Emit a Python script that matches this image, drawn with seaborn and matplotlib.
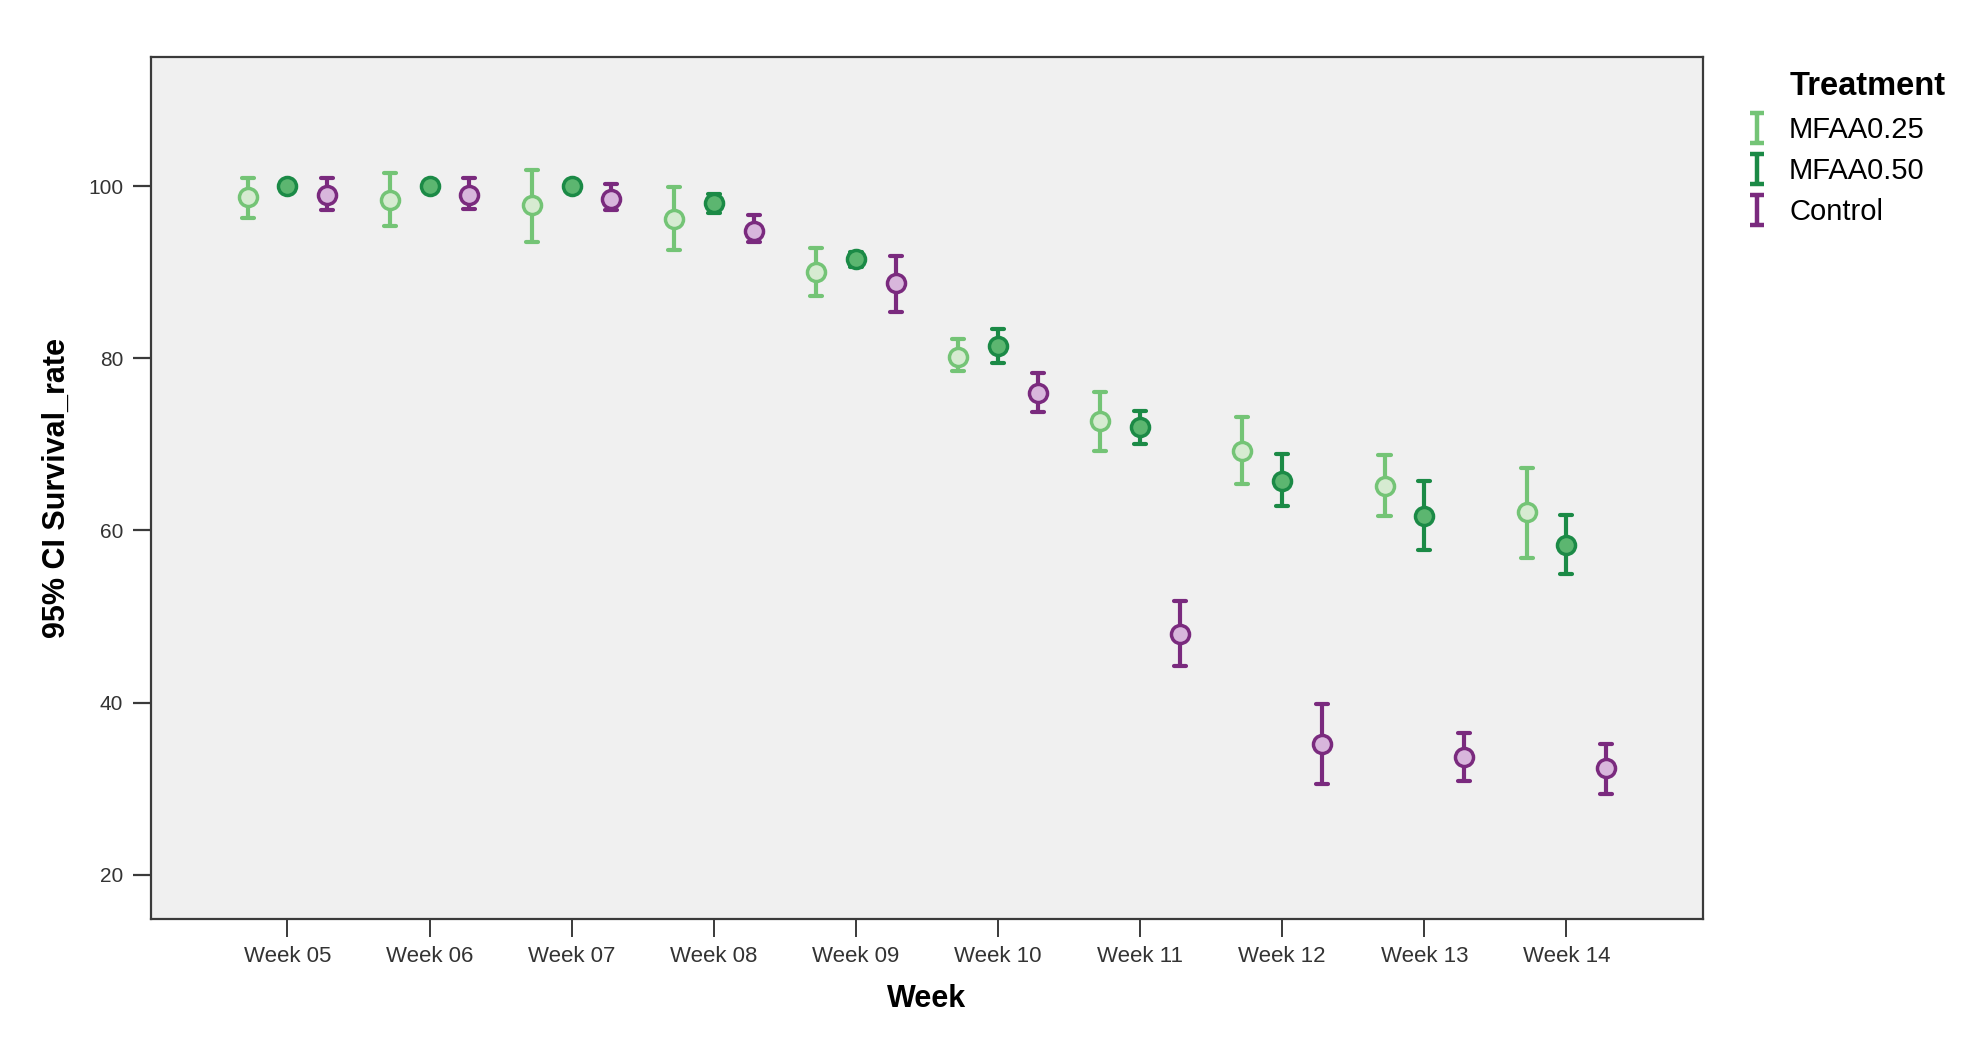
import pandas as pd
import seaborn as sns
import matplotlib.pyplot as plt
import numpy as np
from matplotlib.lines import Line2D
from matplotlib.path import Path
from matplotlib.colors import to_hex


weeks = ["Week 05", "Week 06", "Week 07", "Week 08", "Week 09",
         "Week 10", "Week 11", "Week 12", "Week 13", "Week 14"]
treatments = ["MFAA0.25", "MFAA0.50", "Control"]

# means and 95% CI limits
mfaa025_mean = [98.7, 98.4, 97.8, 96.2, 90.0, 80.1, 72.7, 69.2, 65.2, 62.1]
mfaa025_lo = [96.3, 95.4, 93.5, 92.6, 87.2, 78.5, 69.2, 65.4, 61.7, 56.8]
mfaa025_hi = [101.0, 101.5, 101.9, 99.9, 92.8, 82.2, 76.1, 73.2, 68.8, 67.3]

mfaa050_mean = [100.0, 100.0, 100.0, 98.1, 91.5, 81.4, 72.0, 65.7, 61.7, 58.3]
mfaa050_lo = [100.0, 100.0, 100.0, 96.9, 90.6, 79.5, 70.1, 62.9, 57.7, 54.9]
mfaa050_hi = [100.0, 100.0, 100.0, 99.1, 92.3, 83.4, 73.9, 68.9, 65.8, 61.8]

control_mean = [99.0, 99.0, 98.5, 94.8, 88.7, 76.0, 48.0, 35.2, 33.7, 32.4]
control_lo = [97.2, 97.3, 97.2, 93.5, 85.4, 73.8, 44.2, 30.5, 30.9, 29.4]
control_hi = [100.9, 100.9, 100.3, 96.6, 91.9, 78.3, 51.8, 39.9, 36.5, 35.2]

line_colors = {"MFAA0.25": "#74c476", "MFAA0.50": "#1b8a46", "Control": "#7a2a7e"}
fill_colors = {"MFAA0.25": "#d6ebd1", "MFAA0.50": "#5cb670", "Control": "#d8b6dc"}

# long table: lower limit, mean, upper limit per group -> median + full range
series = {
    "MFAA0.25": (mfaa025_lo, mfaa025_mean, mfaa025_hi),
    "MFAA0.50": (mfaa050_lo, mfaa050_mean, mfaa050_hi),
    "Control": (control_lo, control_mean, control_hi),
}
rows = []
for trt, (lo, mid, hi) in series.items():
    for i, wk in enumerate(weeks):
        for v in (lo[i], mid[i], hi[i]):
            rows.append({"Week": wk, "Treatment": trt, "Survival_rate": v})
df = pd.DataFrame(rows)

plt.rcParams["font.family"] = ["Liberation Sans", "DejaVu Sans"]

fig = plt.figure(figsize=(19.87, 10.56), dpi=100)
ax = fig.add_axes([0.076, 0.130, 0.781, 0.816])
ax.set_facecolor("#f0f0f0")

sns.pointplot(data=df, x="Week", y="Survival_rate", hue="Treatment",
              order=weeks, hue_order=treatments, palette=line_colors,
              estimator="median", errorbar=("pi", 100), dodge=0.56,
              linestyle="none", markers="o", capsize=0.085,
              err_kws={"linewidth": 3.0, "solid_capstyle": "round"},
              markersize=13, markeredgewidth=2.5, legend=False, ax=ax)

# recolour marker faces and keep markers above the bars
hex_to_trt = {v: k for k, v in line_colors.items()}
for line in ax.lines:
    if line.get_marker() not in ("None", "", None) and len(line.get_xdata()) == len(weeks):
        trt = hex_to_trt.get(to_hex(line.get_color()))
        if trt:
            line.set_markerfacecolor(fill_colors[trt])
            line.set_markeredgecolor(line_colors[trt])
            line.set_zorder(4)

ax.set_xlim(-0.96, 9.96)
ax.set_ylim(14.9, 115)
ax.set_yticks([20, 40, 60, 80, 100])

for sp in ax.spines.values():
    sp.set_color("#3a3a3a")
    sp.set_linewidth(1.6)
ax.tick_params(axis="y", length=13, width=1.6, color="#3a3a3a", labelsize=15,
               labelcolor="#333333", pad=7)
ax.tick_params(axis="x", length=13, width=1.4, color="#3a3a3a", labelsize=16,
               labelcolor="#333333", pad=7)

ax.set_xlabel("Week", fontsize=22, fontweight="bold", labelpad=12)
ax.set_ylabel("95% CI Survival_rate", fontsize=22, fontweight="bold", labelpad=12)

# legend with I-beam error bar glyphs
ibeam = Path([(-0.45, 1), (0.45, 1), (0, 1), (0, -1), (-0.45, -1), (0.45, -1)],
             [Path.MOVETO, Path.LINETO, Path.MOVETO, Path.LINETO, Path.MOVETO, Path.LINETO])
handles = [Line2D([], [], linestyle="none", marker=ibeam, markersize=22,
                  markeredgewidth=3.2, color=line_colors[t]) for t in treatments]
fig.text(0.9005, 0.918, "Treatment", fontsize=23.5, fontweight="bold",
         ha="left", va="center")
fig.legend(handles, treatments, loc="upper left", bbox_to_anchor=(0.8725, 0.901),
           frameon=False, fontsize=21, handlelength=0.8, handletextpad=0.7,
           labelspacing=0.45, borderaxespad=0)

fig.savefig("out.png", dpi=100, facecolor="white")
